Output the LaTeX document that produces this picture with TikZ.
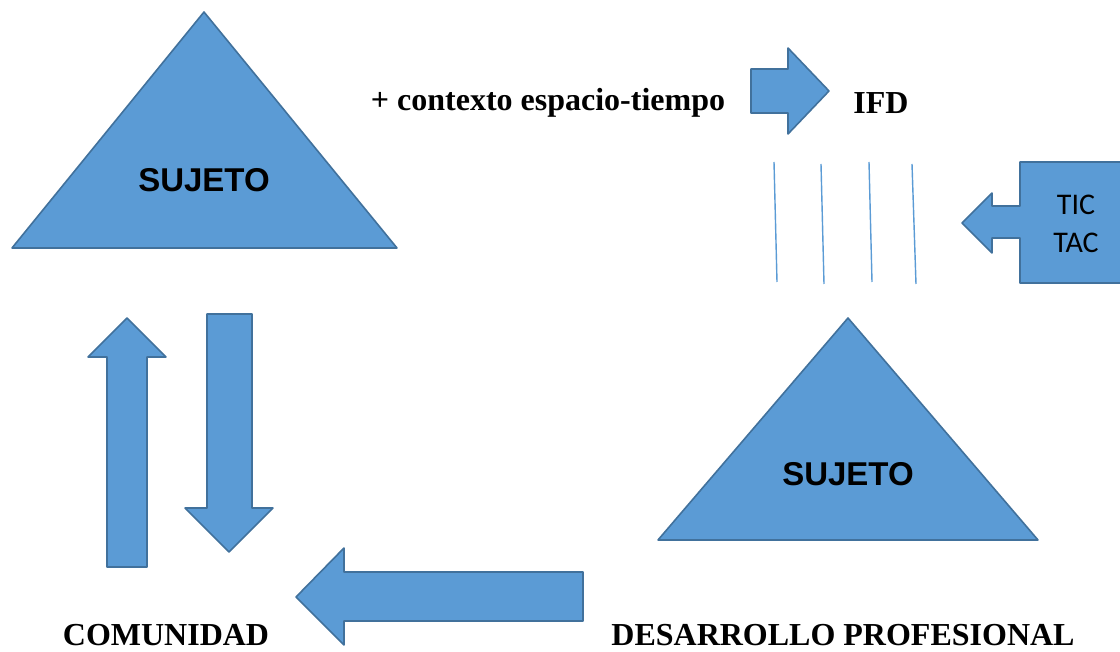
\documentclass[tikz,border=0pt]{standalone}
\usepackage{fontspec}
\setmainfont{Liberation Serif}
\newfontfamily\arialfont{Liberation Sans}
\newfontfamily\calibrifont{Carlito}
\usepackage{tikz}

\definecolor{blockfill}{HTML}{5B9BD5}
\definecolor{blockline}{HTML}{41719C}

\begin{document}
\begin{tikzpicture}
	[x=1pt,y=-1pt,
	block/.style={fill=blockfill,draw=blockline,line width=1.6pt,line join=round},
	hatch/.style={draw=blockfill,line width=1.4pt},
	label/.style={font=\fontsize{32}{36}\selectfont\bfseries,inner sep=0pt},
	subject/.style={font=\arialfont\fontsize{33}{36}\selectfont\bfseries,inner sep=0pt},
	tictext/.style={font=\calibrifont\fontsize{30}{36}\selectfont,inner sep=0pt,align=center}]
	\useasboundingbox (0,0) rectangle (1120,652);
	% the two triangles
	\draw[block] (204,12) -- (397,248) -- (12,248) -- cycle;
	\draw[block] (848,318) -- (1038,540) -- (658,540) -- cycle;
	\node[subject] (sujetoA) at (204,180) {SUJETO};
	\node[subject] (sujetoB) at (848,474) {SUJETO};
	% arrow towards IFD
	\draw[block] (751,69) -- (788,69) -- (788,48) -- (829,91)
		-- (788,134) -- (788,113) -- (751,113) -- cycle;
	\node[label] (contexto) at (548,103) {+ contexto espacio-tiempo};
	\node[label] (ifd) at (881,103) {IFD};
	% lines
	\draw[hatch] (774,162) -- (777,282);
	\draw[hatch] (821,164) -- (824,284);
	\draw[hatch] (869,162) -- (872,282);
	\draw[hatch] (912,164) -- (916,284);
	% TIC TAC callout
	\draw[block] (1130,162) -- (1020,162) -- (1020,206) -- (992,206) -- (992,193)
		-- (962,223) -- (992,253) -- (992,238) -- (1020,238) -- (1020,283) -- (1130,283);
	\node[tictext] (tic) at (1076,224) {TIC\\[2pt]TAC};
	% up and down arrows
	\draw[block] (127,318) -- (166,357) -- (147,357) -- (147,567)
		-- (107,567) -- (107,357) -- (88,357) -- cycle;
	\draw[block] (207,314) -- (252,314) -- (252,508) -- (273,508)
		-- (229,552) -- (185,508) -- (207,508) -- cycle;
	% arrow to the left
	\draw[block] (296,597) -- (344,548) -- (344,572) -- (583,572)
		-- (583,621) -- (344,621) -- (344,645) -- cycle;
	\node[label] (comunidad) at (166,635) {COMUNIDAD};
	\node[label] (desarrollo) at (843,635) {DESARROLLO PROFESIONAL};
\end{tikzpicture}
\end{document}
